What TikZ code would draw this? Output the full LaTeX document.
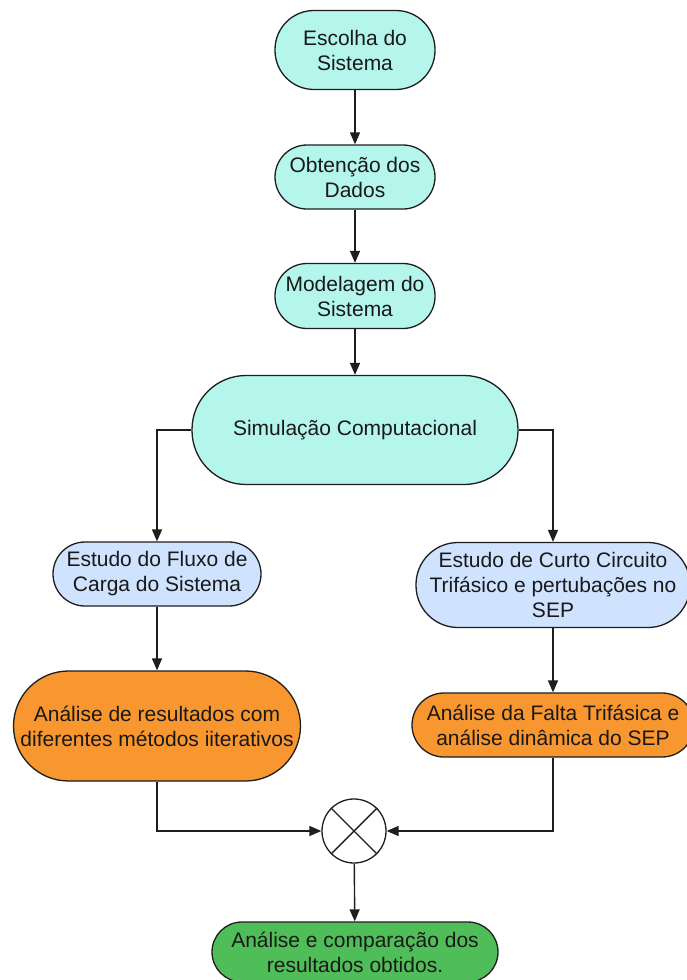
\documentclass[tikz,border=0pt]{standalone}
\usepackage{fontspec}
\setmainfont{Liberation Sans}
\usetikzlibrary{arrows.meta,calc}
\definecolor{cyanfill}{RGB}{180,245,236}
\definecolor{bluefill}{RGB}{207,227,255}
\definecolor{orangefill}{RGB}{248,150,48}
\definecolor{greenfill}{RGB}{80,190,88}
\definecolor{edge}{RGB}{30,30,30}
\begin{document}
\begin{tikzpicture}[x=1pt,y=-1pt,
  box/.style={draw=edge,line width=1.3pt,align=center,inner sep=0pt,
    font=\fontsize{21}{25}\selectfont,text=black!90},
  conn/.style={draw=edge,line width=1.4pt,-{Triangle[length=12pt,width=10pt]}},
  plain/.style={draw=edge,line width=1.4pt}]
\clip (0,0) rectangle (687,980);
\useasboundingbox (0,0) rectangle (687,980);
\fill[white] (0,0) rectangle (687,980);

\node[box,fill=cyanfill,minimum width=160pt,minimum height=79pt,rounded corners=39pt] (e1) at (355,50) {Escolha do\\Sistema};
\node[box,fill=cyanfill,minimum width=160pt,minimum height=64pt,rounded corners=32pt] (e2) at (355,177) {Obtenção dos\\Dados};
\node[box,fill=cyanfill,minimum width=160pt,minimum height=65pt,rounded corners=32pt] (e3) at (355,296) {Modelagem do\\Sistema};
\node[box,fill=cyanfill,minimum width=326pt,minimum height=109pt,rounded corners=54pt] (sim) at (355,430) {Simulação Computacional};

\node[box,fill=bluefill,minimum width=208pt,minimum height=64pt,rounded corners=32pt] (bl) at (157,574) {Estudo do Fluxo de\\Carga do Sistema};
\node[box,fill=bluefill,minimum width=274pt,minimum height=85pt,rounded corners=42pt] (br) at (553,585) {Estudo de Curto Circuito\\Trifásico e pertubações no\\SEP};

\node[box,fill=orangefill,minimum width=287pt,minimum height=110pt,rounded corners=55pt] (ol) at (157,726) {Análise de resultados com\\diferentes métodos iiterativos};
\node[box,fill=orangefill,minimum width=282pt,minimum height=64pt,rounded corners=32pt] (or) at (553,725) {Análise da Falta Trifásica e\\análise dinâmica do SEP};

\node[draw=edge,line width=1.3pt,circle,minimum size=64pt,inner sep=0pt,fill=white] (x) at (354,831) {};
\draw[plain] (x.north west) -- (x.south east);
\draw[plain] (x.north east) -- (x.south west);

\node[box,fill=greenfill,minimum width=286pt,minimum height=60pt,rounded corners=30pt] (g) at (355,952) {Análise e comparação dos\\resultados obtidos.};

\draw[conn] (e1) -- (e2);
\draw[conn] (e2) -- (e3);
\draw[conn] (e3) -- (sim);
\draw[conn] (sim.west) -| (bl.north);
\draw[conn] (sim.east) -| (br.north);
\draw[conn] (bl) -- (ol);
\draw[conn] (br) -- (or);
\draw[conn] (ol.south) |- (x.west);
\draw[conn] (or.south) |- (x.east);
\draw[conn] (x) -- (g);
\end{tikzpicture}
\end{document}
